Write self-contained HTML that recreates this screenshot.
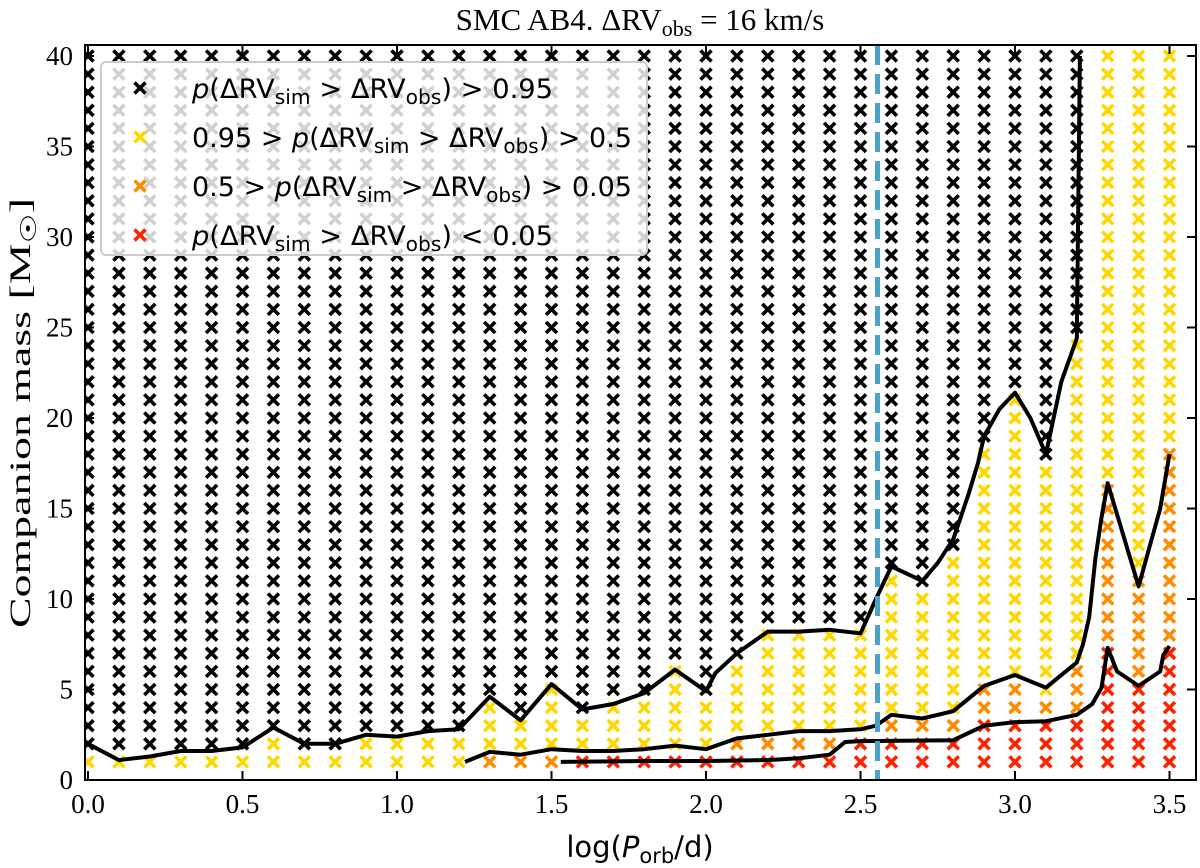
<!DOCTYPE html>
<html><head><meta charset="utf-8"><style>
html,body{margin:0;padding:0;background:#fff;}
svg{display:block;}
.serif{font-family:"Liberation Serif","DejaVu Serif",serif;}
.sans{font-family:"DejaVu Sans","Liberation Sans",sans-serif;}
</style></head><body>
<svg id="chart" width="1200" height="868" viewBox="0 0 1200 868" xmlns="http://www.w3.org/2000/svg">
<defs><clipPath id="plotclip"><rect x="85" y="45" width="1111" height="735"/></clipPath></defs>
<rect x="0" y="0" width="1200" height="868" fill="#fff"/>
<g id="marks" clip-path="url(#plotclip)"></g>
<g id="lines" clip-path="url(#plotclip)"></g>
<g id="axes"></g>
<text class="serif" x="640" y="30" font-size="31" text-anchor="middle">SMC AB4. ΔRV<tspan font-size="22" dy="6">obs</tspan><tspan dy="-6"> = 16 km/s</tspan></text>
<text class="sans" x="640" y="857" font-size="29" text-anchor="middle">log(<tspan font-style="italic">P</tspan><tspan font-size="21" dy="6">orb</tspan><tspan dy="-6">/d)</tspan></text>
<text class="serif" transform="translate(30,413) rotate(-90)" font-size="30" text-anchor="middle" textLength="430" lengthAdjust="spacingAndGlyphs">Companion mass [M<tspan font-size="22" dy="6">☉</tspan><tspan dy="-6">]</tspan></text>
<g id="legend"></g>
</svg>
<script>
// ----- data -----
const periods = [0.0,0.1,0.2,0.3,0.4,0.5,0.6,0.7,0.8,0.9,1.0,1.1,1.2,1.3,1.4,1.5,1.6,1.7,1.8,1.9,2.0,2.1,2.2,2.3,2.4,2.5,2.6,2.7,2.8,2.9,3.0,3.1,3.2,3.3,3.4,3.5];
const redTop    = [0,0,0,0,0,0,0,0,0,0,0,0,0,0,0,0,1,1,1,1,1,1,1,1,1,2,2,2,2,3,3,3,3,7,5,7];
const orangeTop = [0,0,0,0,0,0,0,0,0,0,0,0,0,1,1,1,1,1,1,1,1,2,2,2,2,2,3,3,3,5,5,4,6,16,11,18];
const yellowTop = [1,1,1,1,1,1,2,1,1,2,2,2,2,4,3,5,3,4,4,6,4,6,8,8,8,8,11,10,12,18,21,17,24,40,40,40];
const massMax = 40;
const line95X = [0.0,0.1,0.2,0.3,0.4,0.5,0.6,0.7,0.8,0.9,1.0,1.1,1.2,1.3,1.4,1.5,1.6,1.7,1.8,1.9,2.0,2.03,2.1,2.2,2.3,2.4,2.5,2.55,2.6,2.7,2.75,2.8,2.85,2.88,2.9,2.95,3.0,3.05,3.1,3.15,3.2,3.21];
const line95Y = [2.0,1.1,1.3,1.6,1.6,1.8,2.9,2.0,2.0,2.5,2.4,2.7,2.8,4.6,3.3,5.3,3.9,4.2,4.8,6.1,4.9,5.9,7.0,8.2,8.2,8.3,8.1,10.0,11.8,11.0,12.0,13.3,15.8,17.5,19.0,20.5,21.4,20.0,18.0,22.0,24.4,40];
const line50X = [1.22,1.3,1.4,1.5,1.6,1.7,1.8,1.9,2.0,2.05,2.1,2.2,2.3,2.4,2.5,2.55,2.6,2.7,2.8,2.9,3.0,3.1,3.2,3.22,3.24,3.26,3.28,3.3,3.4,3.47,3.5];
const line50Y = [1.0,1.55,1.4,1.7,1.6,1.6,1.7,1.9,1.7,2.0,2.3,2.5,2.7,2.7,2.8,3.0,3.6,3.4,3.8,5.2,5.8,5.1,6.5,7.5,9.0,12.2,14.5,16.4,10.7,15.0,18.0];
const line05X = [1.53,1.8,2.0,2.2,2.3,2.4,2.45,2.5,2.8,2.9,3.0,3.1,3.2,3.25,3.28,3.3,3.33,3.4,3.47,3.48,3.5];
const line05Y = [1.0,1.05,1.05,1.1,1.2,1.4,2.1,2.15,2.2,3.0,3.2,3.25,3.6,4.2,5.1,7.3,6.0,5.2,6.0,6.9,7.4];
const obsPeriod = 2.555;
const xTicks = [0.0,0.5,1.0,1.5,2.0,2.5,3.0,3.5];
const xTickLabels = ["0.0","0.5","1.0","1.5","2.0","2.5","3.0","3.5"];
const yTicks = [0,5,10,15,20,25,30,35,40];
const yTickLabels = ["0","5","10","15","20","25","30","35","40"];
const legendLabels = [
  ['<tspan font-style="italic">p</tspan>(ΔRV','sim',' &gt; ΔRV','obs',') &gt; 0.95'],
  ['0.95 &gt; <tspan font-style="italic">p</tspan>(ΔRV','sim',' &gt; ΔRV','obs',') &gt; 0.5'],
  ['0.5 &gt; <tspan font-style="italic">p</tspan>(ΔRV','sim',' &gt; ΔRV','obs',') &gt; 0.05'],
  ['<tspan font-style="italic">p</tspan>(ΔRV','sim',' &gt; ΔRV','obs',') &lt; 0.05']
];
const legendWidths = [361, 440, 440, 361];
const catColors = ['#000000','#ffd700','#ff8c00','#ff2200'];

// ----- scales -----
const X0=88, XS=309, Y0=780, YS=18.1;
const sx = v => X0 + XS*v;
const sy = v => Y0 - YS*v;
const NS='http://www.w3.org/2000/svg';
function mk(tag, attrs, parent){const e=document.createElementNS(NS,tag);for(const k in attrs)e.setAttribute(k,attrs[k]);parent.appendChild(e);return e;}
function cross(g,cx,cy,col,h,w){
  return mk('path',{d:`M${cx-h},${cy-h}L${cx+h},${cy+h}M${cx-h},${cy+h}L${cx+h},${cy-h}`,stroke:col,'stroke-width':w,fill:'none'},g);
}
// ----- markers -----
const marks=document.getElementById('marks');
periods.forEach((p,i)=>{
  for(let m=1;m<=massMax;m++){
    let c=0;
    if(m<=redTop[i])c=3; else if(m<=orangeTop[i])c=2; else if(m<=yellowTop[i])c=1;
    const el=cross(marks,sx(p),sy(m),catColors[c],5.5,3.6);
    
    
  }
});
// ----- lines -----
const lines=document.getElementById('lines');
function poly(xs,ys,name){
  const d=xs.map((x,i)=>(i?'L':'M')+sx(x).toFixed(1)+','+sy(ys[i]).toFixed(1)).join('');
  const el=mk('path',{d:d,stroke:'#000','stroke-width':4,fill:'none','stroke-linejoin':'round'},lines);
  
  
}
poly(line95X,line95Y,'contour-line-0-95');
poly(line50X,line50Y,'contour-line-0-5');
poly(line05X,line05Y,'contour-line-0-05');
const obs=mk('line',{x1:sx(obsPeriod),x2:sx(obsPeriod),y1:45,y2:780,stroke:'#4aa3c4','stroke-width':5,'stroke-dasharray':'20,9'},lines);


// ----- axes -----
const axes=document.getElementById('axes');
const frame=mk('rect',{x:85,y:45,width:1111,height:735,fill:'none',stroke:'#000','stroke-width':2},axes);


xTicks.forEach((v,i)=>{
  const x=sx(v);
  mk('line',{x1:x,x2:x,y1:780,y2:771,stroke:'#000','stroke-width':2},axes);
  mk('line',{x1:x,x2:x,y1:45,y2:54,stroke:'#000','stroke-width':2},axes);
  const t=mk('text',{x:x,y:813,'font-size':27,'text-anchor':'middle',class:'serif'},axes);
  t.textContent=xTickLabels[i];
  
  
});
yTicks.forEach((v,i)=>{
  const y=sy(v);
  mk('line',{x1:85,x2:94,y1:y,y2:y,stroke:'#000','stroke-width':2},axes);
  mk('line',{x1:1196,x2:1187,y1:y,y2:y,stroke:'#000','stroke-width':2},axes);
  const t=mk('text',{x:73,y:y+9,'font-size':27,'text-anchor':'end',class:'serif'},axes);
  t.textContent=yTickLabels[i];
  
  
});
// ----- legend -----
const lg=document.getElementById('legend');
mk('rect',{x:101,y:62,width:546,height:193,rx:5,fill:'#fff','fill-opacity':0.82,stroke:'#cccccc','stroke-width':2},lg);
legendLabels.forEach((parts,i)=>{
  const y=88+i*49;
  const mkr=cross(lg,140,y,catColors[i],5.5,3.6);
  
  
  const t=mk('text',{x:192,y:y+10,'font-size':27,class:'sans',textLength:legendWidths[i],lengthAdjust:'spacingAndGlyphs'},lg);
  t.innerHTML=parts[0]+'<tspan font-size="20" dy="6">'+parts[1]+'</tspan><tspan dy="-6">'+parts[2]+'</tspan><tspan font-size="20" dy="6">'+parts[3]+'</tspan><tspan dy="-6">'+parts[4]+'</tspan>';
  
  
});
</script>
</body></html>
